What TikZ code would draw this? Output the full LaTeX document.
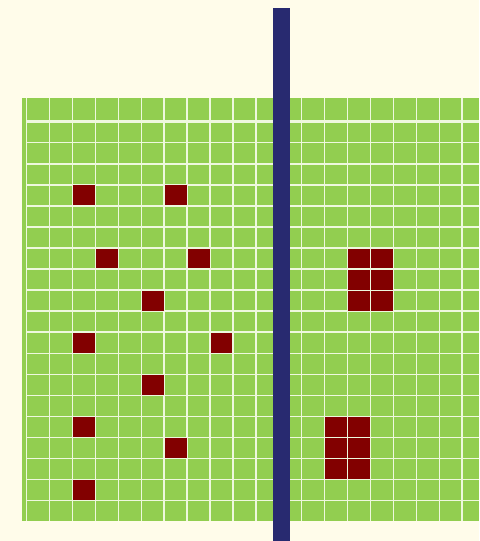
\documentclass[tikz,border=0pt]{standalone}
\definecolor{paper}{RGB}{255,252,234}
\definecolor{lawn}{RGB}{146,206,80}
\definecolor{lineclr}{RGB}{238,248,222}
\definecolor{plot}{RGB}{130,0,0}
\definecolor{divider}{RGB}{40,42,112}
\begin{document}
\begin{tikzpicture}[x=0.75pt,y=-0.75pt,
  gridline/.style={draw=lineclr,line width=1.1pt},
  cell/.style={fill=plot}]
  \fill[paper] (0,0) rectangle (479,541);
  \useasboundingbox (0,0) rectangle (479,541);
  % green field
  \fill[lawn] (22,98) rectangle (479,521);
  % grid lines
  \foreach \c in {0,...,19}
    \draw[gridline] (26.7+22.92*\c,98) -- (26.7+22.92*\c,521);
  \foreach \r in {1,...,18}
    \draw[gridline] (26.7,121.7+21.05*\r) -- (479,121.7+21.05*\r);
  \draw[gridline,line width=2.3pt] (26.7,121.7) -- (479,121.7);
  % red plots
  \foreach \c/\r in {2/3,6/3,3/6,7/6,5/8,2/10,8/10,5/12,2/14,6/15,2/17,
                     14/6,15/6,14/7,15/7,14/8,15/8,
                     13/14,14/14,13/15,14/15,13/16,14/16}
    \fill[cell] (27.4+22.92*\c,122.3+21.05*\r) rectangle (26.2+22.92*\c+22.92,121.1+21.05*\r+21.05);
  % divider
  \fill[divider] (273.3,8) rectangle (290,541);
\end{tikzpicture}
\end{document}
